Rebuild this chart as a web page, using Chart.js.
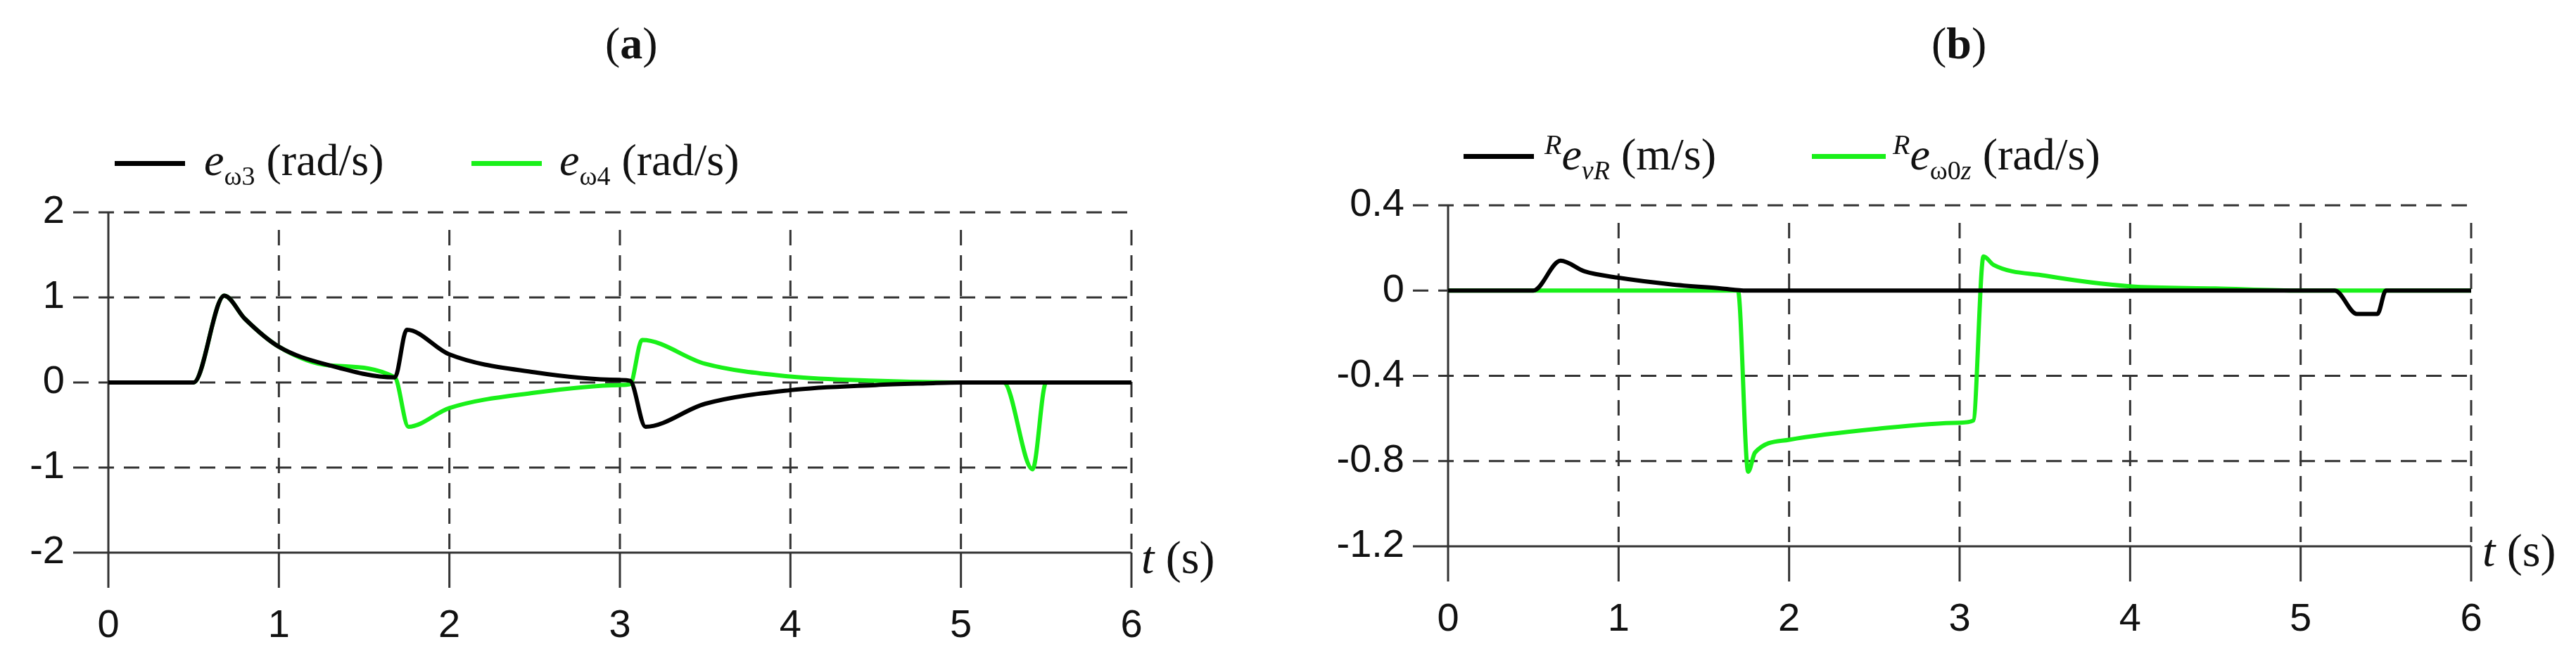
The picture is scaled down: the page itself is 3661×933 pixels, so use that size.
<!DOCTYPE html>
<html>
<head>
<meta charset="utf-8">
<script src="https://cdn.jsdelivr.net/npm/chart.js@4"></script>
<style>
  body { margin: 0; background: #fff; width: 3661px; height: 933px; position: relative; overflow: hidden; }
  canvas { position: absolute; top: 0; }
  .lbl { position: absolute; font-family: "Liberation Serif", "Times New Roman", serif; font-size: 64px; color: #111; white-space: nowrap; line-height: 1; }
  .seg { position: absolute; height: 7px; }
  sub { font-size: 38px; vertical-align: -14px; }
  sup { font-size: 40px; font-style: italic; vertical-align: 22px; }
</style>
</head>
<body>
<canvas id="ca" width="1830" height="933" style="left:0"></canvas>
<canvas id="cb" width="1831" height="933" style="left:1830px"></canvas>

<div class="lbl" style="left:860px;top:30px;font-size:64px">(<b>a</b>)</div>
<div class="lbl" style="left:2745px;top:30px;font-size:64px">(<b>b</b>)</div>

<div class="seg" style="left:163px;top:229px;width:100px;background:#000"></div>
<div class="lbl" style="left:290px;top:196px"><i>e</i><sub>ω3</sub> (rad/s)</div>
<div class="seg" style="left:670px;top:229px;width:100px;background:#19f019"></div>
<div class="lbl" style="left:795px;top:196px"><i>e</i><sub>ω4</sub> (rad/s)</div>

<div class="seg" style="left:2080px;top:219px;width:100px;background:#000"></div>
<div class="lbl" style="left:2195px;top:186px"><sup>R</sup><i>e</i><sub><i>vR</i></sub> (m/s)</div>
<div class="seg" style="left:2575px;top:219px;width:105px;background:#19f019"></div>
<div class="lbl" style="left:2690px;top:186px"><sup>R</sup><i>e</i><sub>ω0<i>z</i></sub> (rad/s)</div>

<div class="lbl" style="left:1622px;top:760px;font-size:66px"><i>t</i> (s)</div>
<div class="lbl" style="left:3528px;top:750px;font-size:66px"><i>t</i> (s)</div>

<script>
// panel (a)
let tA3 = [0, 0.5, 0.68, 0.8, 1.0, 1.3, 1.68, 1.75, 2.0, 2.5, 3.0, 3.06, 3.15, 3.5, 4.0, 4.5, 4.8, 5.0, 6.0];
let eW3 = [0, 0, 1.02, 0.75, 0.42, 0.2, 0.06, 0.62, 0.33, 0.12, 0.03, 0.02, -0.52, -0.25, -0.09, -0.03, -0.01, 0, 0];
let tA4 = [0, 0.5, 0.68, 0.8, 1.0, 1.3, 1.68, 1.76, 2.0, 2.5, 3.0, 3.06, 3.13, 3.5, 4.0, 4.5, 5.0, 5.25, 5.42, 5.5, 5.95];
let eW4 = [0, 0, 1.02, 0.75, 0.42, 0.2, 0.06, -0.52, -0.3, -0.12, -0.03, -0.02, 0.5, 0.22, 0.07, 0.02, 0, 0, -1.02, 0, 0];
let ticksAY = [-2, -1, 0, 1, 2];

// panel (b)
let tBv = [0, 0.5, 0.66, 0.8, 1.0, 1.3, 1.6, 1.75, 5.2, 5.33, 5.45, 5.5, 6.0];
let eVR = [0, 0, 0.14, 0.09, 0.06, 0.03, 0.01, 0, 0, -0.11, -0.11, 0, 0];
let tBw = [0, 1.7, 1.76, 1.8, 2.0, 2.5, 3.0, 3.08, 3.14, 3.2, 3.5, 4.0, 4.5, 5.0, 6.0];
let eW0z = [0, 0, -0.85, -0.76, -0.7, -0.65, -0.62, -0.61, 0.16, 0.12, 0.07, 0.02, 0.01, 0, 0];
let ticksBY = [-1.2, -0.8, -0.4, 0, 0.4];

let ticksX = [0, 1, 2, 3, 4, 5, 6];
let green = '#19f019';

function pts(t, v) { return t.map((x, i) => ({x: x, y: v[i]})); }

let gridPlugin = {
  id: 'grid',
  beforeDatasetsDraw(chart, args, opts) {
    let c = chart.ctx, xs = chart.scales.x, ys = chart.scales.y;
    let yt = opts.yTicks;
    let top = ys.getPixelForValue(yt[yt.length - 1]);
    let bot = ys.getPixelForValue(yt[0]);
    c.save();
    c.lineWidth = 3;
    c.strokeStyle = '#333';
    yt.forEach((v, i) => {
      let y = ys.getPixelForValue(v);
      c.setLineDash(i === 0 ? [] : [22, 14]);
      c.beginPath(); c.moveTo(xs.getPixelForValue(0) - 50, y); c.lineTo(xs.getPixelForValue(6), y); c.stroke();
    });
    ticksX.forEach((v, i) => {
      let x = xs.getPixelForValue(v);
      c.setLineDash(i === 0 ? [] : [22, 14]);
      c.beginPath(); c.moveTo(x, i === 0 ? top : top + 25); c.lineTo(x, bot); c.stroke();
      c.setLineDash([]);
      c.beginPath(); c.moveTo(x, bot); c.lineTo(x, bot + 50); c.stroke();
    });
    c.setLineDash([]);
    c.fillStyle = '#111';
    c.font = '56px "Liberation Sans Narrow", "Liberation Sans", sans-serif';
    c.textAlign = 'right'; c.textBaseline = 'middle';
    yt.forEach(v => c.fillText(String(v), xs.getPixelForValue(0) - 62, ys.getPixelForValue(v)));
    c.textAlign = 'center'; c.textBaseline = 'middle';
    ticksX.forEach(v => c.fillText(String(v), xs.getPixelForValue(v), bot + 105));
    c.restore();
  }
};

function makeChart(id, sets, ymin, ymax, yTicks, pad) {
  return new Chart(document.getElementById(id), {
    type: 'line',
    data: { datasets: sets.map(s => ({
      data: pts(s[0], s[1]), borderColor: s[2], borderWidth: 6,
      pointRadius: 0, tension: 0.25, cubicInterpolationMode: 'monotone'
    })) },
    options: {
      responsive: false, animation: false,
      layout: { padding: pad },
      plugins: { legend: { display: false }, tooltip: { enabled: false }, grid: { yTicks: yTicks } },
      scales: {
        x: { type: 'linear', min: 0, max: 6, display: false },
        y: { min: ymin, max: ymax, display: false }
      }
    },
    plugins: [gridPlugin]
  });
}

let chartA = makeChart('ca', [[tA3, eW3, '#000'], [tA4, eW4, green]], -2, 2, ticksAY,
  {left: 154, right: 222, top: 302, bottom: 147});
let chartB = makeChart('cb', [[tBv, eVR, '#000'], [tBw, eW0z, green]], -1.2, 0.4, ticksBY,
  {left: 228, right: 149, top: 292, bottom: 156});
</script>
</body>
</html>
